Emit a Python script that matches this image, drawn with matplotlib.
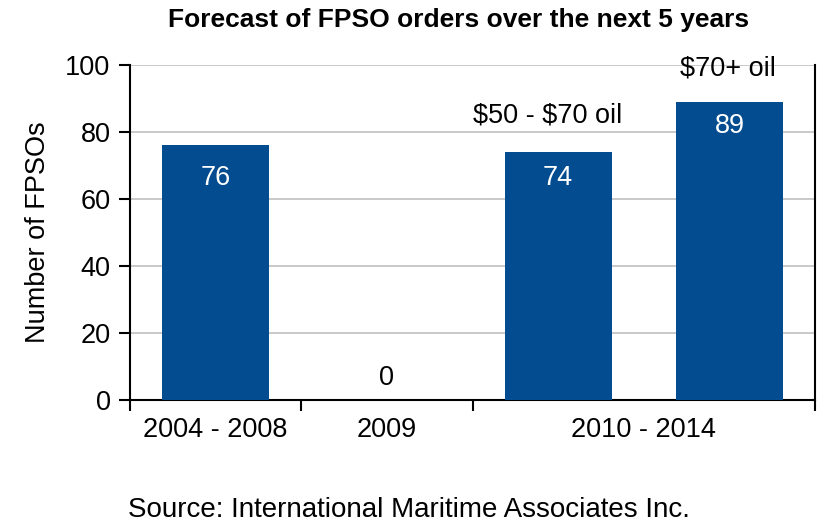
import numpy as np
import matplotlib.pyplot as plt

plt.rcParams['font.family'] = ['Liberation Sans', 'DejaVu Sans']

# data
values = [76, 0, 74, 89]
value_labels = ['76', '0', '74', '89']
label_y = [66.3, 6.6, 66.3, 81.8]
group_labels = ['2004 - 2008', '2009', '2010 - 2014']
group_centers = [0, 1, 2.5]
group_edges = [-0.5, 0.5, 1.5, 3.5]
oil_notes = [r'\$50 - \$70 oil', r'\$70+ oil']

bar_color = '#034C8F'

fig = plt.figure(figsize=(8.21, 5.23), dpi=100)
ax = fig.add_axes([130/821, 1 - 400/523, 685/821, 335/523])

x = np.arange(len(values))
ax.bar(x, values, width=0.625, color=bar_color, zorder=3)

ax.set_xlim(-0.5, 3.5)
ax.set_ylim(0, 100)
ax.set_yticks(range(0, 101, 20))
ax.grid(axis='y', color='#c0c0c0', linewidth=1.2, zorder=0)

# x ticks at group borders, labels at group centres
ax.set_xticks(group_edges)
ax.set_xticklabels([])
ax.set_xticks(group_centers, minor=True)
ax.set_xticklabels(group_labels, minor=True)
ax.tick_params(axis='x', which='minor', length=0, pad=12, labelsize=19.5)
ax.tick_params(axis='x', which='major', length=8, width=1.5, direction='out')
ax.tick_params(axis='y', length=8, width=1.5, direction='out', labelsize=19.5, pad=6)

for s in ['left', 'bottom', 'right']:
    ax.spines[s].set_linewidth(1.5)
ax.spines['top'].set_visible(False)

# value labels
for i, v in enumerate(values):
    col = 'white' if v > 0 else 'black'
    ax.text(i, label_y[i], value_labels[i], ha='center', va='center',
            color=col, fontsize=19.5, zorder=4)

ax.text(1.94, 85, oil_notes[0], ha='center', va='center', fontsize=19.5)
ax.text(2.99, 99, oil_notes[1], ha='center', va='center', fontsize=19.5, zorder=5)

ax.set_ylabel('Number of FPSOs', fontsize=19.5, labelpad=10)

fig.text(0.558, 1 - 20/523, 'Forecast of FPSO orders over the next 5 years',
         ha='center', va='center', fontsize=19, fontweight='bold')
fig.text(0.498, 1 - 510/523, 'Source: International Maritime Associates Inc.',
         ha='center', va='center', fontsize=20)

plt.savefig('out.png', dpi=100)
